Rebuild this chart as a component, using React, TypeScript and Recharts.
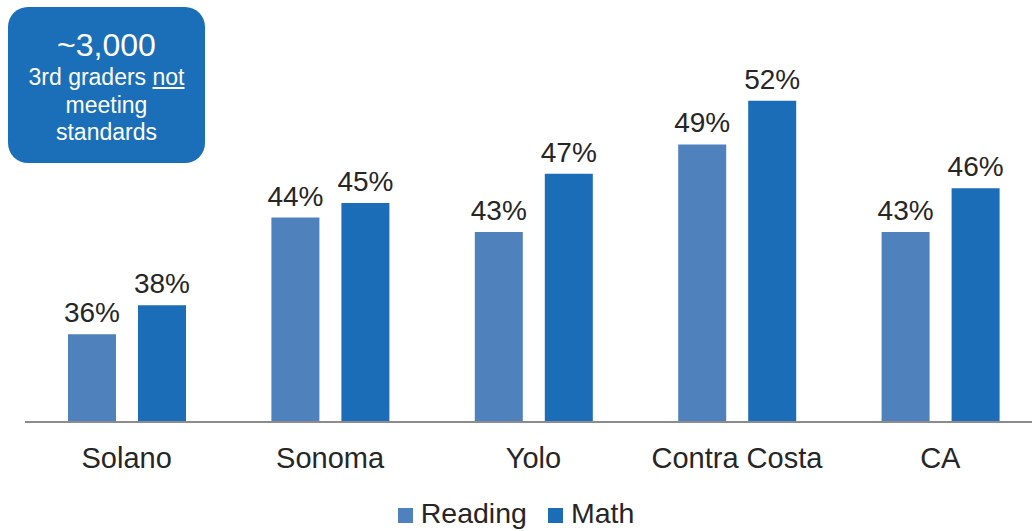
import React from 'react';
import { BarChart, Bar, XAxis, YAxis, Legend, LabelList } from 'recharts';

const REGIONS = ['Solano', 'Sonoma', 'Yolo', 'Contra Costa', 'CA'];
const READING = [36, 44, 43, 49, 43];
const MATH = [38, 45, 47, 52, 46];

const READING_COLOR = '#4f81bd';
const MATH_COLOR = '#1b6db7';
const TEXT = '#262626';
const FONT = '"Liberation Sans", Arial, sans-serif';

const data = REGIONS.map((region, i) => ({ region, reading: READING[i], math: MATH[i] }));

function LegendContent() {
  const items = [
    { name: 'Reading', color: READING_COLOR },
    { name: 'Math', color: MATH_COLOR },
  ];
  return (
    <div style={{ display: 'flex', justifyContent: 'center', alignItems: 'center', gap: 21, height: 40, paddingTop: 5, paddingRight: 35, boxSizing: 'border-box' }}>
      {items.map((it) => (
        <div key={it.name} style={{ display: 'flex', alignItems: 'baseline', gap: 8 }}>
          <span style={{ width: 15, height: 15, background: it.color, display: 'inline-block' }} />
          <span style={{ fontSize: 28.5, color: TEXT, fontFamily: FONT }}>{it.name}</span>
        </div>
      ))}
    </div>
  );
}

export default function App() {
  return (
    <div style={{ position: 'absolute', left: 0, top: 0, width: 1032, height: 531, overflow: 'hidden', background: '#fff', fontFamily: FONT }}>
      <BarChart
        width={1050}
        height={531}
        data={data}
        margin={{ top: 13, right: 8, left: 25, bottom: 0 }}
        barSize={48}
        barGap={22}
      >
        <XAxis
          dataKey="region"
          height={69}
          tickLine={false}
          tickMargin={19}
          axisLine={{ stroke: '#8c8c8c', strokeWidth: 2 }}
          tick={{ fontSize: 29, fill: TEXT, fontFamily: FONT }}
          interval={0}
        />
        <YAxis hide domain={[30, 58]} />
        <Legend verticalAlign="bottom" height={40} content={<LegendContent />} />
        <Bar dataKey="reading" name="Reading" fill={READING_COLOR} isAnimationActive={false}>
          <LabelList dataKey="reading" position="top" offset={12} formatter={(v: number) => `${v}%`}
            style={{ fontSize: 28, fill: TEXT, fontFamily: FONT }} />
        </Bar>
        <Bar dataKey="math" name="Math" fill={MATH_COLOR} isAnimationActive={false}>
          <LabelList dataKey="math" position="top" offset={12} formatter={(v: number) => `${v}%`}
            style={{ fontSize: 28, fill: TEXT, fontFamily: FONT }} />
        </Bar>
      </BarChart>
      <div
        style={{
          position: 'absolute', left: 8, top: 7, width: 197, height: 156, boxSizing: 'border-box',
          background: '#1b6fb8', borderRadius: 20, color: '#fff', textAlign: 'center', paddingTop: 20,
        }}
      >
        <div style={{ fontSize: 32, lineHeight: '37px' }}>~3,000</div>
        <div style={{ fontSize: 23, lineHeight: '27.5px' }}>3rd graders <u>not</u></div>
        <div style={{ fontSize: 23, lineHeight: '27.5px' }}>meeting</div>
        <div style={{ fontSize: 23, lineHeight: '27.5px' }}>standards</div>
      </div>
    </div>
  );
}
